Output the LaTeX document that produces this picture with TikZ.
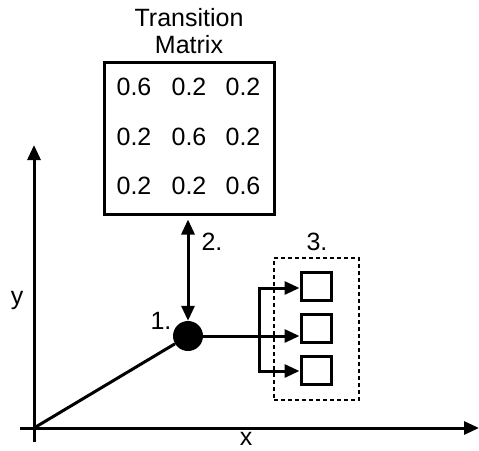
\documentclass[tikz,border=0pt]{standalone}
\usepackage{fontspec}
\setmainfont{Liberation Sans}
\usetikzlibrary{arrows.meta}
\begin{document}
\begin{tikzpicture}[x=1pt,y=-1pt,
  ln/.style={line width=3pt},
  arr/.style={ln,-{Triangle[length=15pt,width=13pt]}},
  lbl/.style={font=\fontsize{25}{28}\selectfont, inner sep=0pt},
  smallbox/.style={draw,line width=3pt,minimum width=30pt,minimum height=28pt,inner sep=0pt}]
\useasboundingbox (0,0) rectangle (479,450);
% axes
\coordinate (o) at (34,428);
\coordinate (yb) at (34,442);
\coordinate (yt) at (34,145);
\coordinate (xl) at (20,428);
\coordinate (xr) at (479,428);
\draw[arr] (yb) -- (yt);
\draw[arr] (xl) -- (xr);
\node[lbl] (xlab) at (246,439) {x};
\node[lbl] (ylab) at (17,300) {y};
% title
\node[lbl] (t1) at (189,18) {Transition};
\node[lbl] (t2) at (189,45) {Matrix};
% matrix box
\node[draw,line width=3pt,minimum width=170pt,minimum height=152pt,inner sep=0pt] (mat) at (189,138) {};
\node[lbl] (m11) at (134,87) {0.6};
\node[lbl] (m12) at (189,87) {0.2};
\node[lbl] (m13) at (243,87) {0.2};
\node[lbl] (m21) at (134,137) {0.2};
\node[lbl] (m22) at (189,137) {0.6};
\node[lbl] (m23) at (243,137) {0.2};
\node[lbl] (m31) at (134,186) {0.2};
\node[lbl] (m32) at (189,186) {0.2};
\node[lbl] (m33) at (243,186) {0.6};
% dot
\node[circle,fill=black,minimum size=30pt,inner sep=0pt] (dot) at (188,336) {};
\node[lbl] (l1) at (161,321) {1.};
\draw[ln] (o) -- (dot);
\draw[ln,{Triangle[length=15pt,width=13pt]}-{Triangle[length=15pt,width=13pt]},shorten <=4pt] (mat.south -| dot) -- (dot.north);
\node[lbl] (l2) at (212,242) {2.};
% dashed group
\node[draw,dash pattern=on 4pt off 3pt,line width=2pt,minimum width=85pt,minimum height=142pt,inner sep=0pt] (grp) at (316.5,329) {};
\node[lbl] (l3) at (317,242) {3.};
\node[smallbox] (b1) at (316,286) {};
\node[smallbox] (b2) at (316,328) {};
\node[smallbox] (b3) at (316,370.5) {};
\coordinate (bt) at (259,288);
\coordinate (bb) at (259,371);
\draw[arr] (dot.east) -- (dot -| b2.west);
\draw[ln] (bt) -- (bb);
\draw[arr] ([xshift=-1.5pt]bt) -- (bt -| b1.west);
\draw[arr] ([xshift=-1.5pt]bb) -- (bb -| b3.west);
\end{tikzpicture}
\end{document}
